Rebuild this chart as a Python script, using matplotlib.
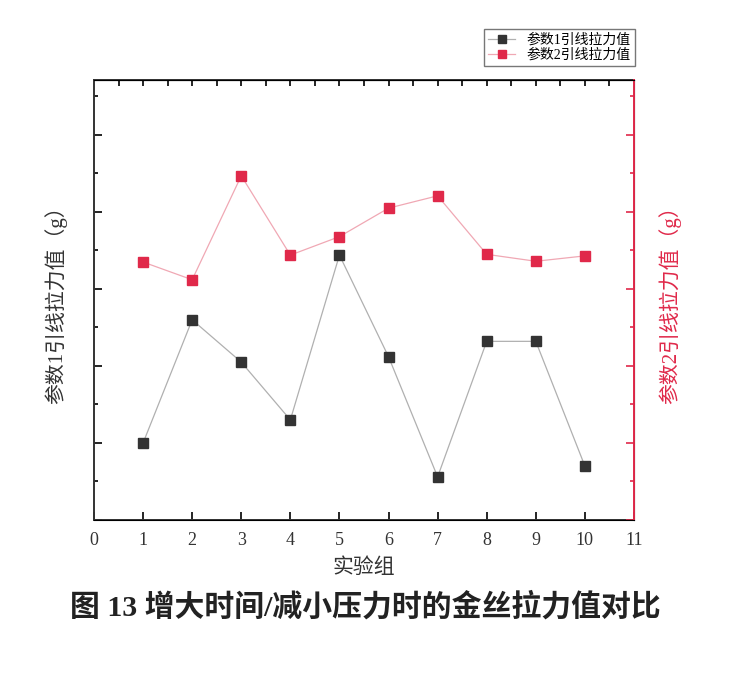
import numpy as np
import matplotlib.pyplot as plt
from matplotlib.ticker import MultipleLocator

plt.rcParams['font.family'] = ['Liberation Serif', 'Noto Sans CJK SC']

# 实验组
groups = [1, 2, 3, 4, 5, 6, 7, 8, 9, 10]
# 拉力值 (无刻度标注, 按图上位置估计, 单位任意)
param1 = [1.00, 2.60, 2.05, 1.30, 3.44, 2.12, 0.56, 2.32, 2.32, 0.70]
param2 = [3.35, 3.12, 4.47, 3.44, 3.68, 4.05, 4.21, 3.45, 3.36, 3.43]

red = '#e0294a'
fig = plt.figure(figsize=(7.36, 6.86), dpi=100)
ax = fig.add_axes([0.1277, 0.242, 0.7337, 0.6414])
ax2 = ax.twinx()

l1, = ax.plot(groups, param1, color='#b0b0b0', lw=0.9, marker='s', ms=7,
              mfc='#333333', mec='#333333', label='参数1引线拉力值')
l2, = ax2.plot(groups, param2, color='#f0a8b4', lw=0.9, marker='s', ms=7,
               mfc=red, mec=red, label='参数2引线拉力值')

ylim = (0, 440 / 77)
ax.set_xlim(0, 11)
ax.set_ylim(*ylim)
ax2.set_ylim(*ylim)
ax.set_xticks(range(0, 12))
ax.yaxis.set_major_locator(MultipleLocator(1))
ax.yaxis.set_minor_locator(MultipleLocator(0.5))
ax2.yaxis.set_major_locator(MultipleLocator(1))
ax2.yaxis.set_minor_locator(MultipleLocator(0.5))
ax.set_yticklabels([])
ax2.set_yticklabels([])

ax.tick_params(axis='x', direction='in', length=6, width=1.2, labelsize=13, pad=9,
               top=False, labelcolor='#333333')
ax.tick_params(axis='y', which='major', direction='in', length=6, width=1.2)
ax.tick_params(axis='y', which='minor', direction='in', length=3, width=1.2)
ax2.tick_params(axis='y', which='major', direction='in', length=6, width=1.2, color=red)
ax2.tick_params(axis='y', which='minor', direction='in', length=3, width=1.2, color=red)

# 上边框的刻度
sec = ax.secondary_xaxis('top')
sec.set_xticks(np.arange(0.5, 11, 0.5))
sec.tick_params(direction='in', length=4, width=1.2, labeltop=False)

for s in ['left', 'bottom', 'top']:
    ax.spines[s].set_linewidth(1.4)
    ax.spines[s].set_color('#333333')
ax2.spines['right'].set_color(red)
ax2.spines['right'].set_linewidth(1.4)
ax2.spines['left'].set_visible(False)

ax.set_xlabel('实验组', fontsize=15, labelpad=6, color='#333333')
ax.set_ylabel('参数1引线拉力值（g）', fontsize=15, labelpad=16, color='#333333')
ax2.set_ylabel('参数2引线拉力值（g）', fontsize=15, labelpad=14, color=red)

fig.legend(handles=[l1, l2], loc='upper right', bbox_to_anchor=(0.872, 0.968),
           fontsize=10, frameon=True, fancybox=False, edgecolor='#555555',
           handlelength=2.0, borderpad=0.3, labelspacing=0.15, markerscale=0.8)

fig.text(0.497, 0.115, '图 13 增大时间/减小压力时的金丝拉力值对比', ha='center', va='center',
         fontsize=21.5, fontweight='bold', color='#222222',
         family=['Liberation Serif', 'Noto Sans CJK SC'])

fig.savefig('out.png', dpi=100)
